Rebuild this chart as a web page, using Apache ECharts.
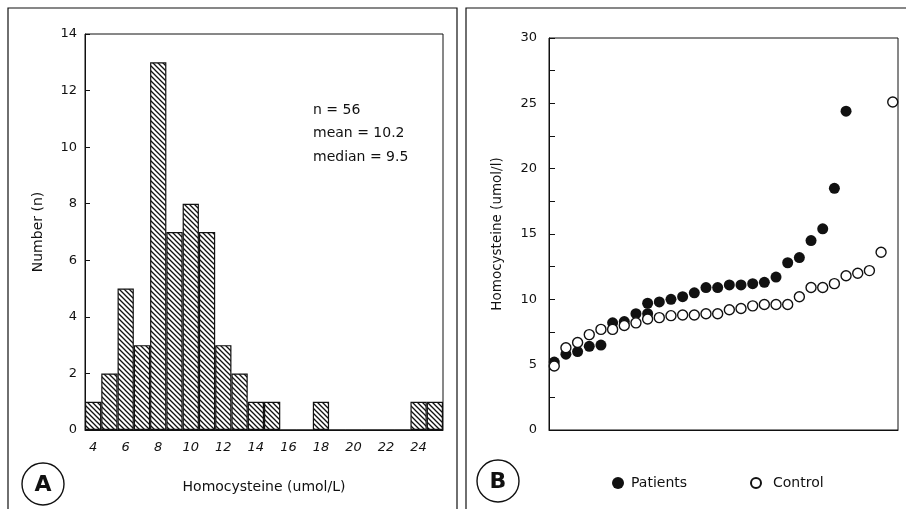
<!DOCTYPE html>
<html>
<head>
<meta charset="utf-8">
<title>Homocysteine</title>
<script src="https://cdn.jsdelivr.net/npm/echarts@6/dist/echarts.min.js"></script>
<style>
  * { margin: 0; padding: 0; }
  #main { width: 906px; height: 509px; background: #fff; }
</style>
</head>
<body>
<div id="main"></div>
<script>
// panel A - histogram of homocysteine (umol/L)
var binLabels = ['4','5','6','7','8','9','10','11','12','13','14','15','16','17','18','19','20','21','22','23','24','25'];
var binCounts = [1, 2, 5, 3, 13, 7, 8, 7, 3, 2, 1, 1, 0, 0, 1, 0, 0, 0, 0, 0, 1, 1];
var statLines = ['n = 56', 'mean = 10.2', 'median = 9.5'];

// panel B - ranked values, patients vs control
var patientRank = [0, 1, 2, 3, 4, 5, 6, 7, 8, 8, 9, 10, 11, 12, 13, 14, 15, 16, 17, 18, 19, 20, 21, 22, 23, 24, 25];
var patientValue = [5.2, 5.8, 6.0, 6.4, 6.5, 8.2, 8.3, 8.9, 8.9, 9.7, 9.8, 10.0, 10.2, 10.5, 10.9, 10.9, 11.1, 11.1, 11.2, 11.3, 11.7, 12.8, 13.2, 14.5, 15.4, 18.5, 24.4];
var controlRank = [0, 1, 2, 3, 4, 5, 6, 7, 8, 9, 10, 11, 12, 13, 14, 15, 16, 17, 18, 19, 20, 21, 22, 23, 24, 25, 26, 27, 28, 29];
var controlValue = [4.9, 6.3, 6.7, 7.3, 7.7, 7.7, 8.0, 8.2, 8.5, 8.6, 8.75, 8.8, 8.8, 8.9, 8.9, 9.2, 9.3, 9.5, 9.6, 9.6, 9.6, 10.2, 10.9, 10.9, 11.2, 11.8, 12.0, 12.2, 13.6, 25.1];

var FONT = 'DejaVu Sans';
var INK = '#111';

// diagonal hatch for the bars
function makeHatch() {
    var s = 5;
    var c = document.createElement('canvas');
    c.width = s; c.height = s;
    var g = c.getContext('2d');
    g.fillStyle = '#fff';
    g.fillRect(0, 0, s, s);
    g.strokeStyle = INK;
    g.lineWidth = 1.3;
    g.beginPath();
    g.moveTo(-1, -1); g.lineTo(s + 1, s + 1);
    g.moveTo(-1, s - 1); g.lineTo(1, s + 1);
    g.moveTo(s - 1, -1); g.lineTo(s + 1, 1);
    g.stroke();
    return c;
}

var chart = echarts.init(document.getElementById('main'), null, { renderer: 'canvas' });

var patients = patientRank.map(function (r, i) { return [r, patientValue[i]]; });
var controls = controlRank.map(function (r, i) { return [r, controlValue[i]]; });

var labelStyle = { color: INK, fontFamily: FONT, fontSize: 13 };
var nameStyle = { color: INK, fontFamily: FONT, fontSize: 14 };

var option = {
    backgroundColor: '#fff',
    animation: false,
    grid: [
        { left: 85, top: 34, width: 358, height: 396, show: true, borderColor: INK, borderWidth: 1, backgroundColor: 'transparent' },
        { left: 549, top: 38, width: 349, height: 392, show: true, borderColor: INK, borderWidth: 1, backgroundColor: 'transparent' }
    ],
    xAxis: [
        {
            type: 'category',
            gridIndex: 0,
            data: binLabels,
            axisLine: { lineStyle: { color: INK, width: 1 } },
            axisTick: { inside: true, length: 4, interval: 0, lineStyle: { color: INK } },
            axisLabel: Object.assign({ interval: 1, margin: 11, fontStyle: 'italic' }, labelStyle),
            splitLine: { show: false },
            name: 'Homocysteine (umol/L)',
            nameLocation: 'middle',
            nameGap: 50,
            nameTextStyle: nameStyle
        },
        {
            type: 'value',
            gridIndex: 1,
            min: -0.45,
            max: 29.45,
            axisLine: { onZero: false, lineStyle: { color: INK, width: 1 } },
            axisTick: { show: false },
            axisLabel: { show: false },
            splitLine: { show: false }
        }
    ],
    yAxis: [
        {
            type: 'value',
            gridIndex: 0,
            min: 0,
            max: 14,
            interval: 2,
            axisLine: { show: true, lineStyle: { color: INK, width: 1 } },
            axisTick: { show: true, inside: true, length: 5, lineStyle: { color: INK } },
            axisLabel: Object.assign({ margin: 8 }, labelStyle),
            splitLine: { show: false },
            name: 'Number (n)',
            nameLocation: 'middle',
            nameGap: 40,
            nameTextStyle: nameStyle
        },
        {
            type: 'value',
            gridIndex: 1,
            min: 0,
            max: 30,
            interval: 2.5,
            axisLine: { show: true, onZero: false, lineStyle: { color: INK, width: 1 } },
            axisTick: { show: true, inside: true, length: 6, lineStyle: { color: INK } },
            axisLabel: Object.assign({
                margin: 12,
                formatter: function (v) { return v % 5 === 0 ? String(v) : ''; }
            }, labelStyle),
            splitLine: { show: false },
            name: 'Homocysteine (umol/l)',
            nameLocation: 'middle',
            nameGap: 45,
            nameTextStyle: { color: INK, fontFamily: FONT, fontSize: 13.5 }
        }
    ],
    legend: [
        {
            data: ['Patients'],
            left: 607, top: 471,
            itemWidth: 12, itemHeight: 12,
            icon: 'circle',
            textStyle: { color: INK, fontFamily: FONT, fontSize: 14, padding: [0, 0, 0, 2] }
        },
        {
            data: ['Control'],
            left: 745, top: 471,
            itemWidth: 10, itemHeight: 10,
            icon: 'circle',
            textStyle: { color: INK, fontFamily: FONT, fontSize: 14, padding: [0, 0, 0, 7] }
        }
    ],
    series: [
        {
            type: 'bar',
            xAxisIndex: 0,
            yAxisIndex: 0,
            data: binCounts,
            barCategoryGap: '0%',
            itemStyle: {
                color: { image: makeHatch(), repeat: 'repeat' },
                borderColor: INK,
                borderWidth: 1.2
            }
        },
        {
            name: 'Patients',
            type: 'scatter',
            xAxisIndex: 1,
            yAxisIndex: 1,
            data: patients,
            symbol: 'circle',
            symbolSize: 11,
            itemStyle: { color: INK, opacity: 1 },
            z: 2
        },
        {
            name: 'Control',
            type: 'scatter',
            xAxisIndex: 1,
            yAxisIndex: 1,
            data: controls,
            symbol: 'circle',
            symbolSize: 10,
            itemStyle: { color: '#fff', borderColor: INK, borderWidth: 1.4, opacity: 1 },
            z: 3
        }
    ],
    graphic: [
        { type: 'rect', shape: { x: 8, y: 8, width: 449, height: 520 }, style: { fill: 'none', stroke: INK, lineWidth: 1.2 }, silent: true },
        { type: 'rect', shape: { x: 466, y: 8, width: 460, height: 520 }, style: { fill: 'none', stroke: INK, lineWidth: 1.2 }, silent: true },
        { type: 'circle', shape: { cx: 43, cy: 484, r: 21 }, style: { fill: '#fff', stroke: INK, lineWidth: 1.4 } },
        { type: 'text', style: { x: 43, y: 485, text: 'A', align: 'center', verticalAlign: 'middle', font: 'bold 22px ' + FONT, fill: INK } },
        { type: 'circle', shape: { cx: 498, cy: 481, r: 21 }, style: { fill: '#fff', stroke: INK, lineWidth: 1.4 } },
        { type: 'text', style: { x: 498, y: 482, text: 'B', align: 'center', verticalAlign: 'middle', font: 'bold 22px ' + FONT, fill: INK } }
    ].concat(statLines.map(function (t, i) {
        return { type: 'text', style: { x: 313, y: 110 + i * 23.5, text: t, verticalAlign: 'middle', font: '14px ' + FONT, fill: INK } };
    }))
};

chart.setOption(option);
</script>
</body>
</html>
